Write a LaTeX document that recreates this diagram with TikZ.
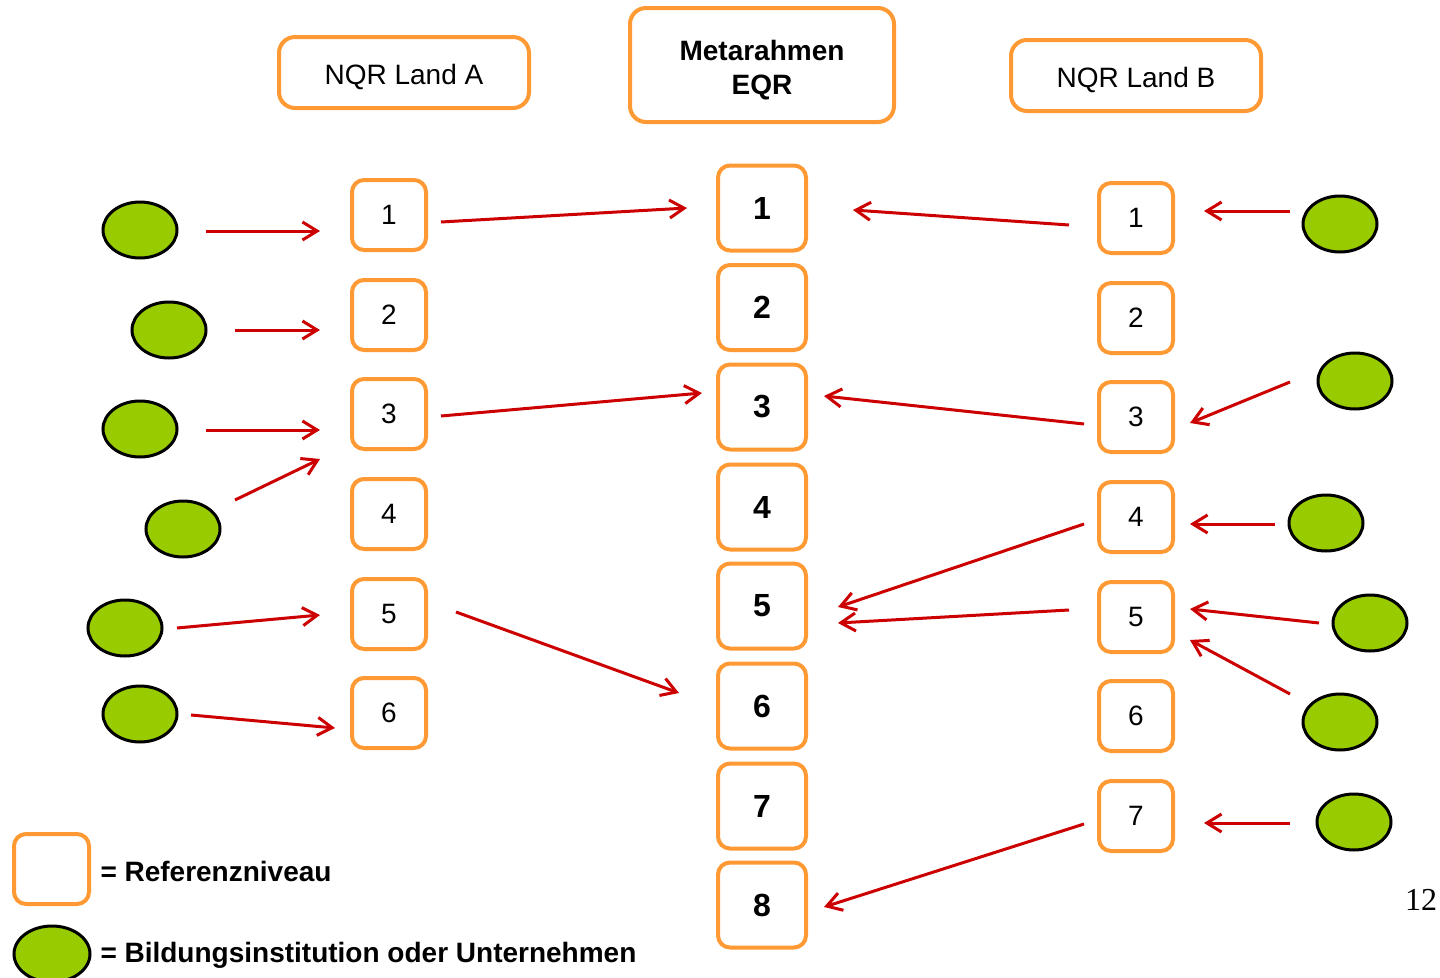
\documentclass[tikz,border=0pt]{standalone}
\usepackage{fontspec}
\setmainfont{Liberation Sans}
\newfontfamily\pagenumfont{Liberation Serif}
\usetikzlibrary{arrows.meta,shapes.geometric,calc}

\definecolor{refOrange}{RGB}{255,153,51}
\definecolor{instGreen}{RGB}{153,204,0}
\definecolor{linkRed}{RGB}{204,0,0}

\tikzset{
  every picture/.style={line width=0.75pt},
  levelbox/.style={draw=refOrange, line width=3pt, rounded corners=9pt, fill=white,
    minimum width=55.5pt, minimum height=52.5pt, inner sep=0pt,
    font=\fontsize{21}{25}\selectfont},
  eqrbox/.style={levelbox, minimum width=66pt, minimum height=63.75pt,
    font=\fontsize{24}{28}\selectfont\bfseries},
  headbox/.style={draw=refOrange, line width=3pt, rounded corners=12pt,
    minimum width=187.5pt, minimum height=53.25pt, align=center,
    text height=18.5pt, text depth=0pt,
    font=\fontsize{21}{25.5}\selectfont},
  inst/.style={ellipse, draw=black, line width=2.25pt, fill=instGreen,
    minimum width=55.5pt, minimum height=42pt, inner sep=0pt},
  link/.style={draw=linkRed, line width=2.25pt,
    -{Straight Barb[length=11pt,width=13.5pt]}},
  legendtext/.style={anchor=west, inner sep=0pt, font=\fontsize{21}{25}\selectfont\bfseries}
}

\begin{document}
\begin{tikzpicture}[x=0.75pt,y=0.75pt,yscale=-1,xscale=1]
        \useasboundingbox (0,0) rectangle (1440,978);

        %Headers
        \node [headbox] (landA) at (404,72.5) {NQR Land A};
        \node [headbox, minimum width=198pt, minimum height=85.5pt, text height=44pt, font=\fontsize{21}{25.5}\selectfont\bfseries] (eqr) at (762,65) {Metarahmen\\EQR};
        \node [headbox] (landB) at (1136,75.5) {NQR Land B};

        %Levels Land A
        \node [levelbox] (a1) at (389,215) {1};
        \node [levelbox] (a2) at (389,315) {2};
        \node [levelbox] (a3) at (389,414) {3};
        \node [levelbox] (a4) at (389,514) {4};
        \node [levelbox] (a5) at (389,614) {5};
        \node [levelbox] (a6) at (389,713) {6};

        %Levels EQR
        \node [eqrbox] (q1) at (762,208) {1};
        \node [eqrbox] (q2) at (762,307.5) {2};
        \node [eqrbox] (q3) at (762,407) {3};
        \node [eqrbox] (q4) at (762,507) {4};
        \node [eqrbox] (q5) at (762,606) {5};
        \node [eqrbox] (q6) at (762,706) {6};
        \node [eqrbox] (q7) at (762,806) {7};
        \node [eqrbox] (q8) at (762,905) {8};

        %Levels Land B
        \node [levelbox] (b1) at (1136,218) {1};
        \node [levelbox] (b2) at (1136,318) {2};
        \node [levelbox] (b3) at (1136,417) {3};
        \node [levelbox] (b4) at (1136,517) {4};
        \node [levelbox] (b5) at (1136,617) {5};
        \node [levelbox] (b6) at (1136,716) {6};
        \node [levelbox] (b7) at (1136,816) {7};

        %Institutions Land A
        \node [inst] (ia1) at (140,230) {};
        \node [inst] (ia2) at (169,330) {};
        \node [inst] (ia3) at (140,429) {};
        \node [inst] (ia4) at (183,529) {};
        \node [inst] (ia5) at (125,628) {};
        \node [inst] (ia6) at (140,714) {};

        %Institutions Land B
        \node [inst] (ib1) at (1340,224) {};
        \node [inst] (ib3) at (1355,381) {};
        \node [inst] (ib4) at (1326,523) {};
        \node [inst] (ib5) at (1370,623) {};
        \node [inst] (ib6) at (1340,722) {};
        \node [inst] (ib7) at (1354,822) {};

        %Arrows institutions -> Land A
        \draw [link] ($(ia1)+(66,1)$) -- ($(a1)+(-69,16)$);
        \draw [link] ($(ia2)+(66,0)$) -- ($(a2)+(-69,15)$);
        \draw [link] ($(ia3)+(66,1)$) -- ($(a3)+(-69,16)$);
        \draw [link] ($(ia4)+(52,-29)$) -- ($(a3)+(-69,45)$);
        \draw [link] ($(ia5)+(52,0)$) -- ($(a5)+(-69,1)$);
        \draw [link] ($(ia6)+(51,1)$) -- ($(a6)+(-54,15)$);

        %Arrows Land A -> EQR
        \draw [link] ($(a1)+(52,7)$) -- ($(q1)+(-75,0)$);
        \draw [link] ($(a3)+(52,2)$) -- ($(q3)+(-60,-14)$);
        \draw [link] ($(a5)+(67,-2)$) -- ($(q6)+(-83,-13)$);

        %Arrows Land B -> EQR
        \draw [link] ($(b1)+(-67,7)$) -- ($(q1)+(91,2)$);
        \draw [link] ($(b3)+(-52,7)$) -- ($(q3)+(62,-11)$);
        \draw [link] ($(b4)+(-52,7)$) -- ($(q5)+(76,1)$);
        \draw [link] ($(b5)+(-67,-7)$) -- ($(q5)+(76,17)$);
        \draw [link] ($(b7)+(-52,8)$) -- ($(q8)+(62,2)$);

        %Arrows institutions -> Land B
        \draw [link] ($(ib1)+(-50,-13)$) -- ($(b1)+(68,-7)$);
        \draw [link] ($(ib3)+(-65,1)$) -- ($(b3)+(54,6)$);
        \draw [link] ($(ib4)+(-51,1)$) -- ($(b4)+(54,7)$);
        \draw [link] ($(ib5)+(-51,0)$) -- ($(b5)+(54,-8)$);
        \draw [link] ($(ib6)+(-50,-28)$) -- ($(b5)+(54,23)$);
        \draw [link] ($(ib7)+(-64,1)$) -- ($(b7)+(68,7)$);

        %Legend
        \node [levelbox, minimum width=56.25pt] (legbox) at (51.5,869) {};
        \node [inst, minimum width=57pt] (leginst) at (52,954) {};
        % Text Node
        \node [legendtext] (legboxtxt) at (100,871) {= Referenzniveau};
        % Text Node
        \node [legendtext] (leginsttxt) at (100,955) {= Bildungsinstitution oder Unternehmen};

        % Text Node
        \node [font=\pagenumfont\fontsize{24}{28}\selectfont, inner sep=0pt] (pagenum) at (1421,900) {12};

\end{tikzpicture}
\end{document}
